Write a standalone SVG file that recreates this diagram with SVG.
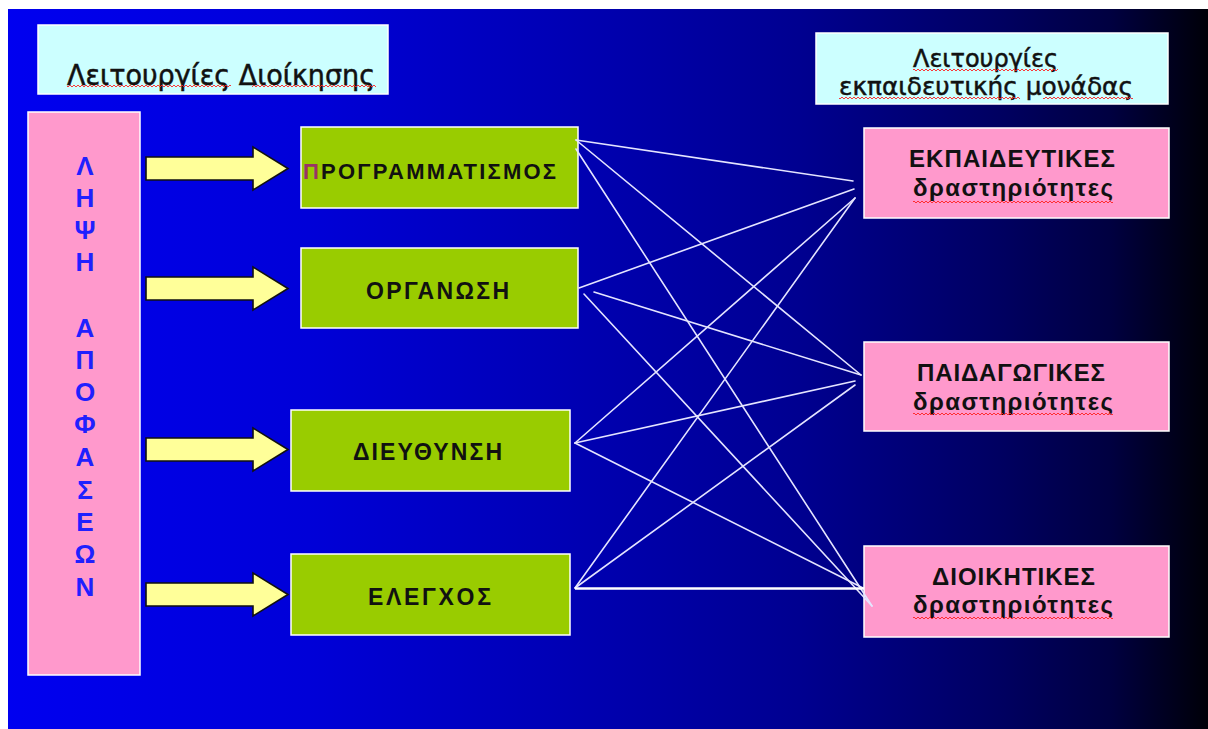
<svg xmlns="http://www.w3.org/2000/svg" width="1208" height="729" viewBox="0 0 1208 729">
<defs>
<linearGradient id="bg" x1="8" y1="0" x2="1208" y2="0" gradientUnits="userSpaceOnUse">
<stop offset="0" stop-color="#0000f0"/>
<stop offset="0.25" stop-color="#0000d8"/>
<stop offset="0.46" stop-color="#0000b5"/>
<stop offset="0.66" stop-color="#000090"/>
<stop offset="0.83" stop-color="#000060"/>
<stop offset="0.92" stop-color="#000040"/>
<stop offset="1" stop-color="#000008"/>
</linearGradient>
<pattern id="sq" width="4" height="4" patternUnits="userSpaceOnUse">
<path d="M0 3 L2 1 L4 3" fill="none" stroke="#ff2020" stroke-width="0.9"/>
</pattern>
<style>
.title{fill:#ccffff;stroke:#ffffff;stroke-width:1.5}
.pink{fill:#ff99cc;stroke:#ffffff;stroke-width:1.5}
.green{fill:#99cc00;stroke:#ffffff;stroke-width:1.5}
.arrow{fill:#ffff99;stroke:#111111;stroke-width:1.6;stroke-linejoin:miter}
.tt{font-family:"DejaVu Sans","Noto Sans",sans-serif;fill:#111111;stroke:#111111;stroke-width:0.5}
.bt{font-family:"Liberation Sans",Arial,sans-serif;font-weight:bold;fill:#111111}
.vt{font-family:"Liberation Sans",Arial,sans-serif;font-weight:bold;fill:#2020ff;font-size:26px;text-anchor:middle}
.ln{stroke:#e4e4ff;stroke-width:1.6;fill:none;stroke-linecap:round}
.sq{fill:url(#sq)}
</style>
</defs>
<rect x="0" y="0" width="1208" height="729" fill="#ffffff"/>
<rect x="8" y="9" width="1200" height="720" fill="url(#bg)"/>

<g id="title-left">
<rect class="title" x="38" y="25" width="350" height="69"/>
<text class="tt" x="67" y="85" font-size="28" textLength="308" lengthAdjust="spacingAndGlyphs">Λειτουργίες Διοίκησης</text>
<rect class="sq" x="67" y="84" width="164" height="4"/>
<rect class="sq" x="252" y="84" width="124" height="4"/>
</g>

<g id="title-right">
<rect class="title" x="816" y="33" width="352" height="71"/>
<text class="tt" x="913" y="67" font-size="24" textLength="145" lengthAdjust="spacingAndGlyphs">Λειτουργίες</text>
<text class="tt" x="839" y="95" font-size="24" textLength="294" lengthAdjust="spacingAndGlyphs">εκπαιδευτικής μονάδας</text>
<rect class="sq" x="913" y="68" width="145" height="4"/>
<rect class="sq" x="839" y="96" width="181" height="4"/>
<rect class="sq" x="1043" y="96" width="90" height="4"/>
</g>

<g id="lipsi-apofaseon">
<rect class="pink" x="28" y="112" width="112" height="563"/>
<text class="vt" x="85" y="175">Λ</text>
<text class="vt" x="85" y="207">Η</text>
<text class="vt" x="85" y="239">Ψ</text>
<text class="vt" x="85" y="271">Η</text>
<text class="vt" x="85" y="337">Α</text>
<text class="vt" x="85" y="369">Π</text>
<text class="vt" x="85" y="401">Ο</text>
<text class="vt" x="85" y="433">Φ</text>
<text class="vt" x="85" y="466">Α</text>
<text class="vt" x="85" y="499">Σ</text>
<text class="vt" x="85" y="531">Ε</text>
<text class="vt" x="85" y="563">Ω</text>
<text class="vt" x="85" y="596">Ν</text>
</g>

<g id="arrows">
<polygon class="arrow" points="146,157 253,157 253,147 288,168.5 253,190 253,180 146,180"/>
<polygon class="arrow" points="146,277 253,277 253,267 288,288.5 253,310 253,300 146,300"/>
<polygon class="arrow" points="146,438 253,438 253,428 288,449.5 253,471 253,461 146,461"/>
<polygon class="arrow" points="146,583 253,583 253,573 288,594.5 253,616 253,606 146,606"/>
</g>

<g id="programmatismos">
<rect class="green" x="301" y="127" width="277" height="81"/>
<text class="bt" x="303" y="179" font-size="22" textLength="253"><tspan fill="#993366">Π</tspan>ΡΟΓΡΑΜΜΑΤΙΣΜΟΣ</text>
</g>
<g id="organosi">
<rect class="green" x="301" y="248" width="277" height="80"/>
<text class="bt" x="366" y="299" font-size="23" textLength="143">ΟΡΓΑΝΩΣΗ</text>
</g>
<g id="dieythynsi">
<rect class="green" x="291" y="410" width="279" height="81"/>
<text class="bt" x="353" y="460" font-size="23" textLength="149">ΔΙΕΥΘΥΝΣΗ</text>
</g>
<g id="elegxos">
<rect class="green" x="291" y="554" width="279" height="81"/>
<text class="bt" x="368" y="605" font-size="23" textLength="123">ΕΛΕΓΧΟΣ</text>
</g>

<g id="ekpaideytikes">
<rect class="pink" x="864" y="128" width="305" height="90"/>
<text class="bt" x="909" y="167" font-size="24" textLength="206">ΕΚΠΑΙΔΕΥΤΙΚΕΣ</text>
<text class="bt" x="913" y="196" font-size="24" textLength="200">δραστηριότητες</text>
<rect class="sq" x="913" y="200" width="200" height="4"/>
</g>
<g id="paidagogikes">
<rect class="pink" x="864" y="342" width="305" height="89"/>
<text class="bt" x="917" y="381" font-size="24" textLength="188">ΠΑΙΔΑΓΩΓΙΚΕΣ</text>
<text class="bt" x="913" y="410" font-size="24" textLength="200">δραστηριότητες</text>
<rect class="sq" x="913" y="412" width="200" height="4"/>
</g>
<g id="dioikitikes">
<rect class="pink" x="864" y="546" width="305" height="91"/>
<text class="bt" x="932" y="585" font-size="24" textLength="163">ΔΙΟΙΚΗΤΙΚΕΣ</text>
<text class="bt" x="913" y="613" font-size="24" textLength="200">δραστηριότητες</text>
<rect class="sq" x="913" y="616" width="200" height="4"/>
</g>

<g id="connectors">
<line class="ln" x1="576" y1="140" x2="853" y2="181"/>
<line class="ln" x1="576" y1="140" x2="861" y2="375"/>
<line class="ln" x1="576" y1="149" x2="872" y2="606"/>
<line class="ln" x1="579" y1="288" x2="854" y2="189"/>
<line class="ln" x1="594" y1="292" x2="861" y2="375"/>
<line class="ln" x1="584" y1="294" x2="872" y2="606"/>
<line class="ln" x1="575" y1="443" x2="855" y2="198"/>
<line class="ln" x1="575" y1="443" x2="855" y2="381"/>
<line class="ln" x1="575" y1="443" x2="863" y2="588"/>
<line class="ln" x1="575" y1="588" x2="855" y2="198"/>
<line class="ln" x1="575" y1="588" x2="855" y2="385"/>
<line x1="575" y1="588.5" x2="864" y2="588.5" stroke="#ffffff" stroke-width="2.6"/>
</g>
</svg>
